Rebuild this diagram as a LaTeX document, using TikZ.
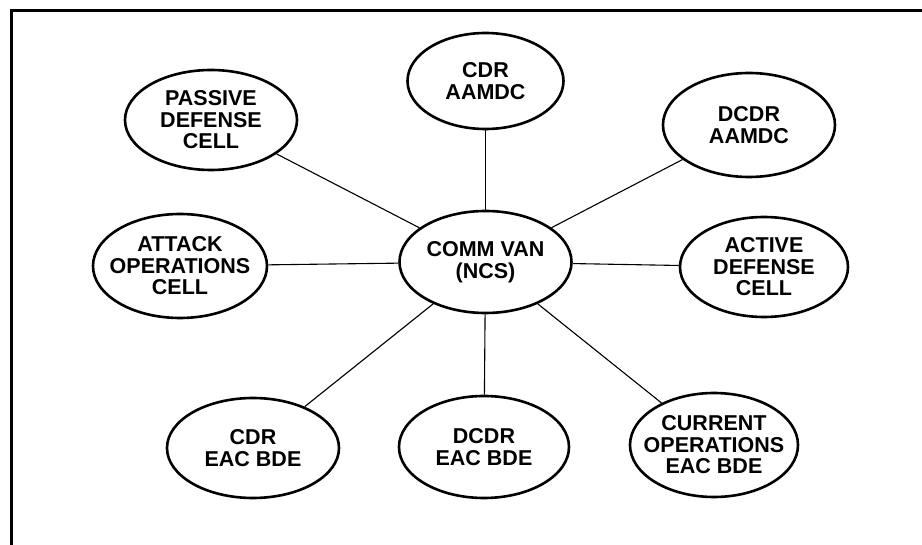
\documentclass[tikz,border=0pt]{standalone}
\usepackage{fontspec}
\setmainfont{Liberation Sans}
\usetikzlibrary{shapes.geometric}
\begin{document}
\begin{tikzpicture}[x=1pt,y=-1pt,
  unit/.style={ellipse,draw,line width=2.6pt,inner sep=0pt},
  txt/.style={align=center,inner sep=0pt,font=\fontsize{21.5}{21.5}\selectfont\bfseries},
  link/.style={line width=1.1pt},
  frame/.style={line width=2.2pt}]
\useasboundingbox (0,0) rectangle (922,545);
\draw[frame] (11.5,545) -- (11.5,10.5) -- (922,10.5);
\node[unit,minimum width=172pt,minimum height=102pt] (c) at (485.5,262) {};
\node[txt] at (c) {COMM VAN\\(NCS)};
\node[unit,minimum width=156pt,minimum height=96pt] (cdra) at (485.5,81) {};
\node[txt] at (cdra) {CDR\\AAMDC};
\node[unit,minimum width=172pt,minimum height=104pt] (dcdra) at (749,125) {};
\node[txt] at (dcdra) {DCDR\\AAMDC};
\node[unit,minimum width=172pt,minimum height=100pt] (pdc) at (211,120) {};
\node[txt] at (pdc) {PASSIVE\\DEFENSE\\CELL};
\node[unit,minimum width=174pt,minimum height=104pt] (aoc) at (180,266) {};
\node[txt] at (aoc) {ATTACK\\OPERATIONS\\CELL};
\node[unit,minimum width=168pt,minimum height=100pt] (adc) at (764,267) {};
\node[txt] at (adc) {ACTIVE\\DEFENSE\\CELL};
\node[unit,minimum width=172pt,minimum height=100pt] (cdre) at (253,448) {};
\node[txt] at (cdre) {CDR\\EAC BDE};
\node[unit,minimum width=170pt,minimum height=102pt] (dcdre) at (484,447) {};
\node[txt] at (dcdre) {DCDR\\EAC BDE};
\node[unit,minimum width=168pt,minimum height=104pt] (coe) at (714,445) {};
\node[txt] at (coe) {CURRENT\\OPERATIONS\\EAC BDE};
\foreach \n in {cdra,dcdra,pdc,aoc,adc,cdre,dcdre,coe}
  \draw[link] (c) -- (\n);
\end{tikzpicture}
\end{document}
